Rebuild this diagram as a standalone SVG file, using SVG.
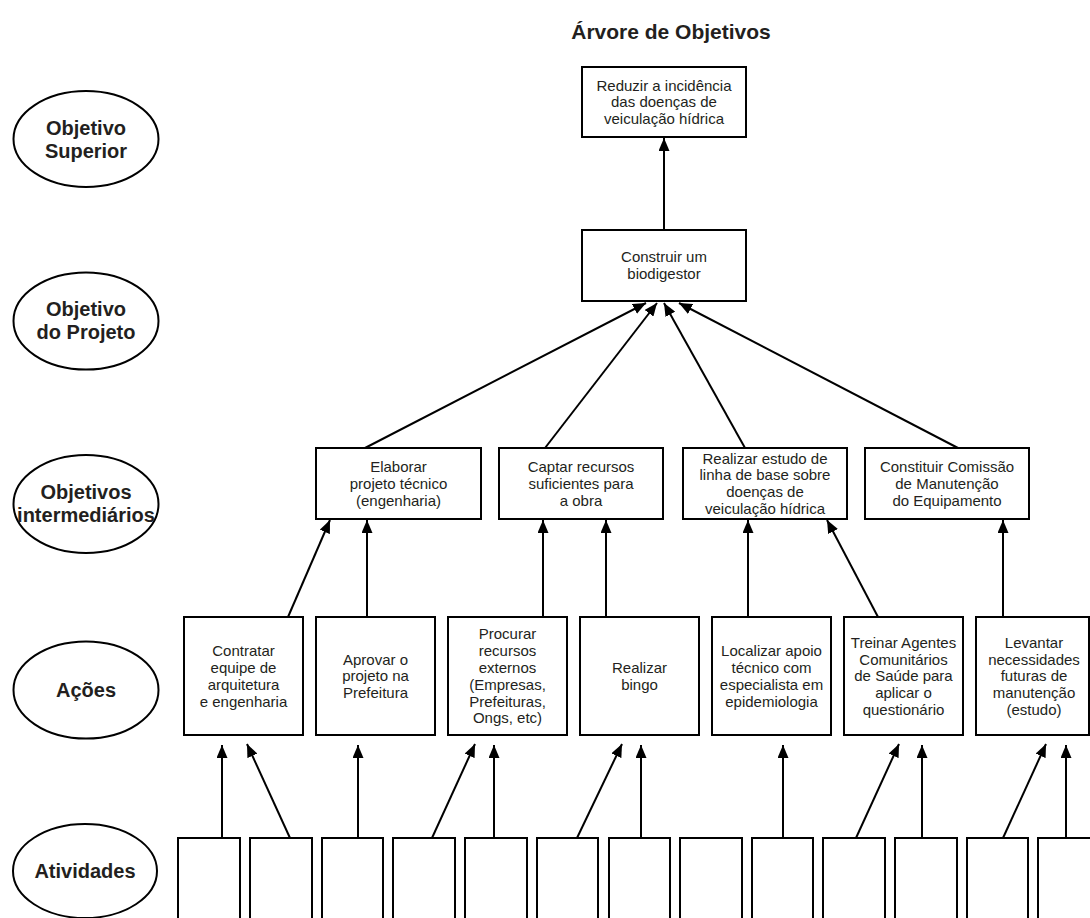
<svg xmlns="http://www.w3.org/2000/svg" width="1090" height="918" viewBox="0 0 1090 918">
<defs>
<marker id="ah" markerUnits="userSpaceOnUse" markerWidth="13" markerHeight="11" refX="13" refY="5.5" orient="auto">
<path d="M0,0 L13,5.5 L0,11 z" fill="#000"/>
</marker>
<style>
.box{fill:#fff;stroke:#000;stroke-width:2}
.ell{fill:#fff;stroke:#000;stroke-width:2}
.t{font-family:"Liberation Sans",Arial,sans-serif;font-size:15px;text-anchor:middle;fill:#231f20}
.lb{font-family:"Liberation Sans",Arial,sans-serif;font-size:20px;font-weight:bold;text-anchor:middle;fill:#231f20}
.title{font-family:"Liberation Sans",Arial,sans-serif;font-size:21px;font-weight:bold;text-anchor:middle;fill:#231f20}
.c line{stroke:#000;stroke-width:2;marker-end:url(#ah)}
</style>
</defs>
<rect width="1090" height="918" fill="#fff"/>
<text class="title" x="671" y="39">Árvore de Objetivos</text>

<g id="lvl-superior"><ellipse class="ell" cx="86" cy="139" rx="72.5" ry="48"/><text class="lb" x="86" y="135">Objetivo</text><text class="lb" x="86" y="158">Superior</text></g>
<g id="lvl-projeto"><ellipse class="ell" cx="86" cy="321" rx="72.5" ry="48.5"/><text class="lb" x="86" y="316">Objetivo</text><text class="lb" x="86" y="339">do Projeto</text></g>
<g id="lvl-intermed"><ellipse class="ell" cx="86" cy="504" rx="72.5" ry="49"/><text class="lb" x="86" y="499">Objetivos</text><text class="lb" x="86" y="522">intermediários</text></g>
<g id="lvl-acoes"><ellipse class="ell" cx="86" cy="690" rx="72.5" ry="48.5"/><text class="lb" x="86" y="697">Ações</text></g>
<g id="lvl-atividades"><ellipse class="ell" cx="85" cy="871" rx="72" ry="47"/><text class="lb" x="85" y="878">Atividades</text></g>

<g id="n-top"><rect class="box" x="582" y="67" width="164" height="70"/>
<text class="t" x="664" y="90.5">Reduzir a incidência</text><text class="t" x="664" y="107.3">das doenças de</text><text class="t" x="664" y="124.1">veiculação hídrica</text></g>

<g id="n-proj"><rect class="box" x="582" y="230" width="164" height="71"/>
<text class="t" x="664" y="262.4">Construir um</text><text class="t" x="664" y="279.2">biodigestor</text></g>

<g id="n-m1"><rect class="box" x="316" y="448" width="165" height="71"/>
<text class="t" x="398.5" y="472">Elaborar</text><text class="t" x="398.5" y="488.8">projeto técnico</text><text class="t" x="398.5" y="505.6">(engenharia)</text></g>
<g id="n-m2"><rect class="box" x="499" y="448" width="164" height="71"/>
<text class="t" x="581" y="472">Captar recursos</text><text class="t" x="581" y="488.8">suficientes para</text><text class="t" x="581" y="505.6">a obra</text></g>
<g id="n-m3"><rect class="box" x="683" y="448" width="164" height="71"/>
<text class="t" x="765" y="463.6">Realizar estudo de</text><text class="t" x="765" y="480.4">linha de base sobre</text><text class="t" x="765" y="497.2">doenças de</text><text class="t" x="765" y="514">veiculação hídrica</text></g>
<g id="n-m4"><rect class="box" x="865" y="448" width="164" height="71"/>
<text class="t" x="947" y="472">Constituir Comissão</text><text class="t" x="947" y="488.8">de Manutenção</text><text class="t" x="947" y="505.6">do Equipamento</text></g>

<g id="n-a1"><rect class="box" x="184" y="617" width="119" height="118"/>
<text class="t" x="243.5" y="656.1">Contratar</text><text class="t" x="243.5" y="672.9">equipe de</text><text class="t" x="243.5" y="689.7">arquitetura</text><text class="t" x="243.5" y="706.5">e engenharia</text></g>
<g id="n-a2"><rect class="box" x="316" y="617" width="119" height="118"/>
<text class="t" x="375.5" y="664.5">Aprovar o</text><text class="t" x="375.5" y="681.3">projeto na</text><text class="t" x="375.5" y="698.1">Prefeitura</text></g>
<g id="n-a3"><rect class="box" x="448" y="617" width="119" height="118"/>
<text class="t" x="507.5" y="639.3">Procurar</text><text class="t" x="507.5" y="656.1">recursos</text><text class="t" x="507.5" y="672.9">externos</text><text class="t" x="507.5" y="689.7">(Empresas,</text><text class="t" x="507.5" y="706.5">Prefeituras,</text><text class="t" x="507.5" y="723.3">Ongs, etc)</text></g>
<g id="n-a4"><rect class="box" x="580" y="617" width="119" height="118"/>
<text class="t" x="639.5" y="672.9">Realizar</text><text class="t" x="639.5" y="689.7">bingo</text></g>
<g id="n-a5"><rect class="box" x="712" y="617" width="119" height="118"/>
<text class="t" x="771.5" y="656.1">Localizar apoio</text><text class="t" x="771.5" y="672.9">técnico com</text><text class="t" x="771.5" y="689.7">especialista em</text><text class="t" x="771.5" y="706.5">epidemiologia</text></g>
<g id="n-a6"><rect class="box" x="844" y="617" width="119" height="118"/>
<text class="t" x="903.5" y="647.7">Treinar Agentes</text><text class="t" x="903.5" y="664.5">Comunitários</text><text class="t" x="903.5" y="681.3">de Saúde para</text><text class="t" x="903.5" y="698.1">aplicar o</text><text class="t" x="903.5" y="714.9">questionário</text></g>
<g id="n-a7"><rect class="box" x="976" y="617" width="113" height="118"/>
<text class="t" x="1034" y="647.7">Levantar</text><text class="t" x="1034" y="664.5">necessidades</text><text class="t" x="1034" y="681.3">futuras de</text><text class="t" x="1034" y="698.1">manutenção</text><text class="t" x="1034" y="714.9">(estudo)</text></g>

<g id="activities">
<rect id="v1" class="box" x="178" y="838" width="62" height="100"/>
<rect id="v2" class="box" x="250" y="838" width="62" height="100"/>
<rect id="v3" class="box" x="322" y="838" width="61" height="100"/>
<rect id="v4" class="box" x="393" y="838" width="62" height="100"/>
<rect id="v5" class="box" x="465" y="838" width="62" height="100"/>
<rect id="v6" class="box" x="537" y="838" width="61" height="100"/>
<rect id="v7" class="box" x="609" y="838" width="61" height="100"/>
<rect id="v8" class="box" x="680" y="838" width="62" height="100"/>
<rect id="v9" class="box" x="752" y="838" width="61" height="100"/>
<rect id="v10" class="box" x="823" y="838" width="62" height="100"/>
<rect id="v11" class="box" x="895" y="838" width="62" height="100"/>
<rect id="v12" class="box" x="967" y="838" width="61" height="100"/>
<rect id="v13" class="box" x="1038" y="838" width="62" height="100"/>
</g>

<g id="connectors" class="c">
<line x1="664" y1="230" x2="664" y2="138"/>
<line x1="365" y1="448" x2="646" y2="303"/>
<line x1="545" y1="448" x2="657" y2="303"/>
<line x1="745" y1="448" x2="664" y2="303"/>
<line x1="958" y1="448" x2="679" y2="303"/>
<line x1="288" y1="617" x2="330" y2="520"/>
<line x1="367" y1="617" x2="367" y2="520"/>
<line x1="543" y1="617" x2="543" y2="520"/>
<line x1="606" y1="617" x2="606" y2="520"/>
<line x1="748" y1="617" x2="748" y2="520"/>
<line x1="878" y1="617" x2="827" y2="520"/>
<line x1="1003" y1="617" x2="1003" y2="520"/>
<line x1="222" y1="838" x2="222" y2="745"/>
<line x1="290" y1="838" x2="247" y2="744"/>
<line x1="358" y1="838" x2="358" y2="745"/>
<line x1="432" y1="838" x2="475" y2="744"/>
<line x1="494" y1="838" x2="494" y2="745"/>
<line x1="577" y1="838" x2="622" y2="744"/>
<line x1="641" y1="838" x2="641" y2="745"/>
<line x1="783" y1="838" x2="783" y2="745"/>
<line x1="856" y1="838" x2="899" y2="744"/>
<line x1="922" y1="838" x2="922" y2="745"/>
<line x1="1003" y1="838" x2="1046" y2="744"/>
<line x1="1066" y1="838" x2="1066" y2="745"/>
</g>
</svg>
